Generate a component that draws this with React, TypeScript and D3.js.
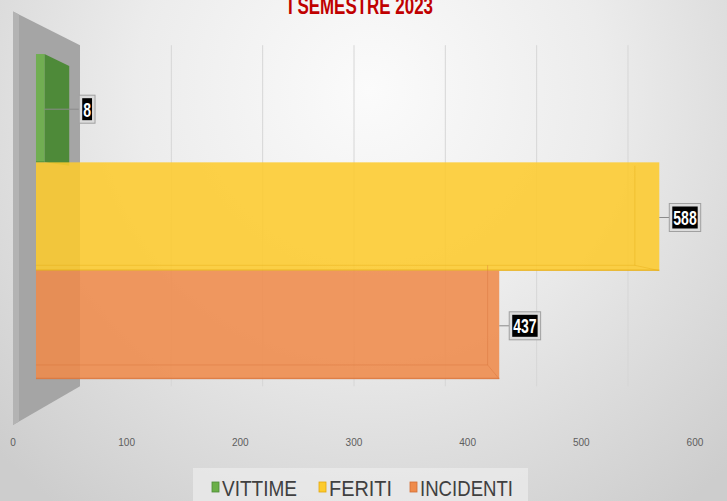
import React from "react";
import * as d3 from "d3";

const categories = ["VITTIME", "FERITI", "INCIDENTI"];
const values = [8, 588, 437];
const tickValues = [0, 100, 200, 300, 400, 500, 600];
const title = "I SEMESTRE 2023";

const W = 727;
const H = 501;
const VP = { x: 354, y: 204 };
const F_BAR_FRONT = 0.9326;
const F_BAR_BACK = 0.858;
const F_WALL_BACK_X = 0.8035;
const F_WALL_BACK_Y = 0.825;

const fillColors: Record<string, string> = { VITTIME: "#6AAF47", FERITI: "#FDCB2D", INCIDENTI: "#EF8B4B" };
const darkColors: Record<string, string> = { VITTIME: "#4E8A39", FERITI: "#E3A70E", INCIDENTI: "#D36E35" };
const FONT = "'Liberation Sans Narrow', 'Arial Narrow', 'Liberation Sans', Arial, sans-serif";

function proj(xf: number, yf: number, fx: number, fy: number = fx): [number, number] {
  return [VP.x + fx * (xf - VP.x), VP.y + fy * (yf - VP.y)];
}

export default function App() {
  const x = d3.scaleLinear().domain([0, 600]).range([13, 695]);
  const y = d3.scaleBand<string>().domain(categories).range([43.2, 391.6]).padding(0);
  const bw = y.bandwidth();

  const wallTopF: [number, number] = [x(0), 11.5];
  const wallBotF: [number, number] = [x(0), 425];
  const wallTopB = proj(x(0), 11.5, F_WALL_BACK_X, F_WALL_BACK_Y);
  const wallBotB = proj(x(0), 425, F_WALL_BACK_X, F_WALL_BACK_Y);
  const wallPts = [wallTopF, wallTopB, wallBotB, wallBotF];
  const stripPts = [wallTopF, [wallTopF[0] + 6, wallTopF[1] + 3], [wallBotF[0] + 6, wallBotF[1] - 3.5], wallBotF];

  const bars = categories.map((c, i) => {
    const v = values[i];
    const fTL = proj(x(0), y(c)!, F_BAR_FRONT);
    const fBR = proj(x(v), y(c)! + bw, F_BAR_FRONT);
    const bTL = proj(x(0), y(c)!, F_BAR_BACK);
    const bBR = proj(x(v), y(c)! + bw, F_BAR_BACK);
    return { c, v, fTL, fBR, bTL, bBR };
  });

  const pts = (p: number[][]) => p.map((q) => q.join(",")).join(" ");

  return (
    <svg width={W} height={H} style={{ position: "absolute", left: 0, top: 0, display: "block" }}>
      <defs>
        <radialGradient id="bg" gradientUnits="userSpaceOnUse" cx={370} cy={90} r={520}>
          <stop offset="0" stopColor="#fbfbfb" />
          <stop offset="0.45" stopColor="#ececec" />
          <stop offset="1" stopColor="#cdcdcd" />
        </radialGradient>
      </defs>
      <rect x={0} y={0} width={W} height={H} fill="url(#bg)" />

      <text x={360.5} y={14} textAnchor="middle" fontFamily={FONT} fontWeight="bold" fontSize={24}
        fill="#C00000" textLength={145} lengthAdjust="spacingAndGlyphs">{title}</text>

      {tickValues.slice(1).map((t) => {
        const top = proj(x(t), 11.5, F_WALL_BACK_X, F_WALL_BACK_Y);
        const bot = proj(x(t), 425, F_WALL_BACK_X, F_WALL_BACK_Y);
        return <line key={t} x1={top[0]} x2={bot[0]} y1={top[1]} y2={bot[1]} stroke="#d6d6d6" strokeWidth={1} />;
      })}

      <polygon points={pts(wallPts)} fill="#a5a5a5" />
      <polygon points={pts(stripPts)} fill="#b3b3b3" />

      {bars.map((b) => {
        const endVisible = b.bBR[0] > b.fBR[0];
        const endFace = [
          [b.fBR[0], b.fTL[1]],
          [b.bBR[0], b.bTL[1]],
          [b.bBR[0], b.bBR[1]],
          [b.fBR[0], b.fBR[1]],
        ];
        return (
          <g key={b.c}>
            {endVisible && <polygon points={pts(endFace)} fill={darkColors[b.c]} />}
            <rect x={b.fTL[0]} y={b.fTL[1]} width={b.fBR[0] - b.fTL[0]} height={b.fBR[1] - b.fTL[1]}
              fill={fillColors[b.c]} fillOpacity={0.88} />
            {!endVisible && (
              <g stroke={darkColors[b.c]} strokeOpacity={0.35} strokeWidth={1} fill="none">
                <line x1={b.bBR[0]} x2={b.bBR[0]} y1={b.bTL[1]} y2={b.bBR[1]} />
                <line x1={b.fTL[0]} x2={b.bBR[0]} y1={b.bBR[1]} y2={b.bBR[1]} />
                <line x1={b.bBR[0]} x2={b.fBR[0]} y1={b.bBR[1]} y2={b.fBR[1]} />
              </g>
            )}
            <line x1={b.fTL[0]} x2={b.fBR[0]} y1={b.fBR[1] - 0.5} y2={b.fBR[1] - 0.5}
              stroke={darkColors[b.c]} strokeOpacity={0.6} strokeWidth={1.5} />
          </g>
        );
      })}

      {bars.map((b) => {
        const endX = Math.max(b.fBR[0], b.bBR[0]);
        const cy = (b.fTL[1] + b.fBR[1]) / 2 + 1;
        const label = String(b.v);
        const tw = 7.8 * label.length;
        const bx = endX + 10;
        const bwid = tw + 8;
        const bh = 28;
        return (
          <g key={"l" + b.c}>
            <line x1={b.fBR[0]} x2={bx} y1={cy} y2={cy} stroke="#8a8a8a" strokeWidth={1} />
            <rect x={bx} y={cy - bh / 2} width={bwid} height={bh} fill="#dcdcdc" stroke="#a0a0a0" strokeWidth={1} />
            <rect x={bx + 3} y={cy - bh / 2 + 3} width={bwid - 6} height={bh - 6} fill="#000" />
            <text x={bx + bwid / 2} y={cy + 7.5} textAnchor="middle" fontFamily={FONT} fontWeight="bold"
              fontSize={21} fill="#fff" textLength={tw} lengthAdjust="spacingAndGlyphs">{label}</text>
          </g>
        );
      })}

      {tickValues.map((t) => {
        const s = String(t);
        return (
          <text key={"t" + t} x={x(t)} y={446} textAnchor="middle" fontFamily={FONT} fontSize={11}
            fill="#5e5e5e" textLength={5.6 * s.length} lengthAdjust="spacingAndGlyphs">{s}</text>
        );
      })}

      <rect x={193} y={468} width={335} height={40} fill="#ececec" fillOpacity={0.7} />
      {categories.map((c, i) => {
        const sx = [212, 319, 410][i];
        const tl = [75, 63, 93][i];
        return (
          <g key={"lg" + c}>
            <rect x={sx} y={482} width={7} height={10} fill={fillColors[c]} stroke={darkColors[c]} strokeWidth={0.8} />
            <text x={sx + 10} y={496} fontFamily={FONT} fontSize={22} fill="#404040"
              textLength={tl} lengthAdjust="spacingAndGlyphs">{c}</text>
          </g>
        );
      })}
    </svg>
  );
}
